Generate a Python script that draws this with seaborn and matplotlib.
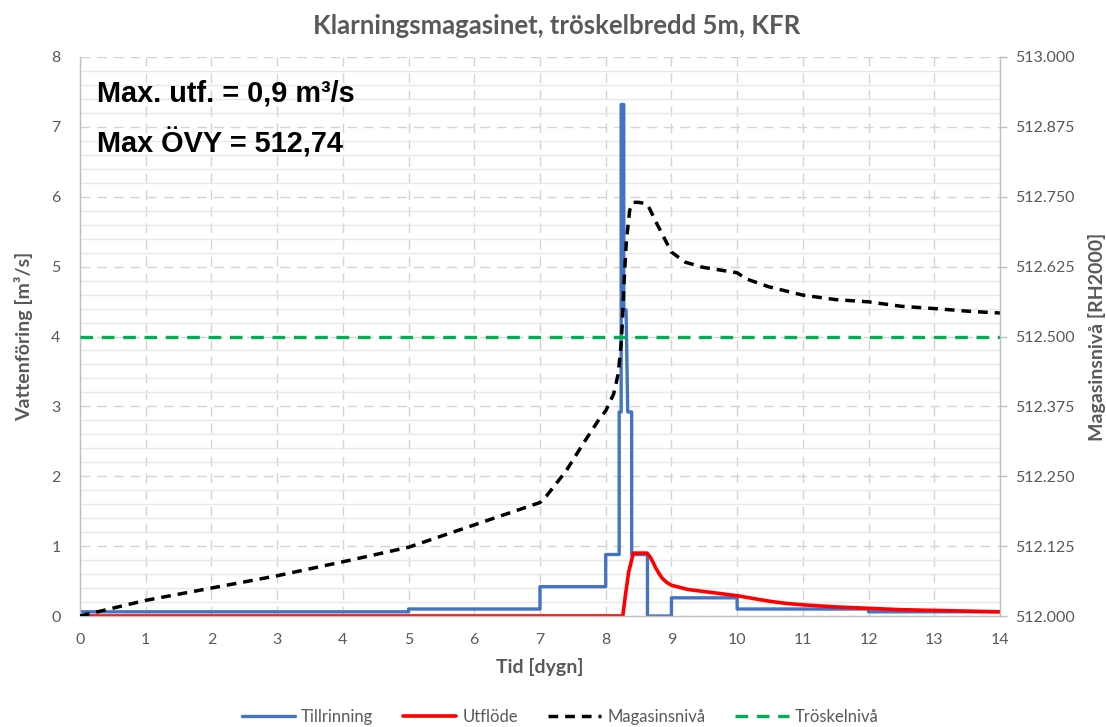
import matplotlib
matplotlib.use("Agg")
import matplotlib.pyplot as plt
from matplotlib.ticker import MultipleLocator, FormatStrFormatter
import pandas as pd
import seaborn as sns

# Tillrinning (inflow) [m³/s] – stepwise hydrograph, repeated times give vertical steps
t_inflow = [0, 5, 5, 7, 7, 8, 8, 8.205, 8.205, 8.235, 8.235, 8.275, 8.275, 8.31,
            8.335, 8.395, 8.395, 8.635, 8.635, 9, 9, 10, 10, 12, 12, 14]
q_inflow = [0.06, 0.06, 0.10, 0.10, 0.42, 0.42, 0.88, 0.88, 2.92, 2.92, 7.32, 7.32,
            4.38, 4.38, 2.92, 2.92, 0.88, 0.88, 0.0, 0.0, 0.26, 0.26, 0.10, 0.10,
            0.06, 0.06]

# Utflöde (outflow) [m³/s]
t_outflow = [0, 8.26, 8.3, 8.35, 8.42, 8.63, 8.68, 8.72, 8.76, 8.81, 8.86, 8.93, 9.0,
             9.25, 9.5, 9.75, 10.0, 10.25, 10.5, 10.75, 11.0, 11.5, 12.0, 12.5, 13.0,
             13.5, 14.0]
q_outflow = [0.0, 0.0, 0.30, 0.63, 0.90, 0.90, 0.84, 0.77, 0.69, 0.61, 0.54, 0.48,
             0.44, 0.38, 0.35, 0.32, 0.29, 0.25, 0.21, 0.18, 0.16, 0.13, 0.11, 0.09,
             0.08, 0.07, 0.06]

# Magasinsnivå (water level) [m, RH2000]
t_level = [0, 0.5, 1, 2, 3, 4, 5, 6, 7, 7.1, 7.4, 7.65, 7.9, 8.0, 8.12, 8.19, 8.23,
           8.25, 8.28, 8.315, 8.365, 8.42, 8.5, 8.6, 8.65, 8.76, 9.0, 9.21, 9.47,
           10.0, 10.14, 10.48, 11.0, 11.5, 12.0, 12.5, 13.0, 13.54, 14.0]
h_level = [512.000, 512.014, 512.028, 512.050, 512.072, 512.097, 512.123, 512.163,
           512.203, 512.215, 512.260, 512.307, 512.352, 512.367, 512.397, 512.433,
           512.481, 512.517, 512.600, 512.672, 512.726, 512.740, 512.740, 512.738,
           512.733, 512.706, 512.651, 512.633, 512.624, 512.614, 512.603, 512.589,
           512.574, 512.566, 512.562, 512.554, 512.550, 512.545, 512.542]

# Tröskelnivå (weir crest level) [m, RH2000]
t_threshold = [0, 14]
h_threshold = [512.5, 512.5]

x_ticks = list(range(0, 15))
y_left_ticks = list(range(0, 9))
y_right_min, y_right_max, y_right_step = 512.0, 513.0, 0.125

sns.set_style("white")
plt.rcParams["font.family"] = ["Lato", "DejaVu Sans"]

TXT = "#595959"
AXIS = "#bfbfbf"
BLUE = "#4472c4"
RED = "#ff0000"
GREEN = "#00b050"

W, H = 1106, 727
fig = plt.figure(figsize=(W / 100, H / 100), dpi=100)
ax = fig.add_axes([80 / W, 1 - 616 / H, 920 / W, 559 / H])
ax2 = ax.twinx()

inflow = pd.DataFrame({"t": t_inflow, "q": q_inflow})
outflow = pd.DataFrame({"t": t_outflow, "q": q_outflow})
level = pd.DataFrame({"t": t_level, "h": h_level})
threshold = pd.DataFrame({"t": t_threshold, "h": h_threshold})

sns.lineplot(data=inflow, x="t", y="q", ax=ax, estimator=None, sort=False,
             color=BLUE, lw=2.4, label="Tillrinning")
sns.lineplot(data=outflow, x="t", y="q", ax=ax, estimator=None, sort=False,
             color=RED, lw=2.6, label="Utflöde")
sns.lineplot(data=level, x="t", y="h", ax=ax2, estimator=None, sort=False,
             color="black", lw=2.5, dashes=False, label="Magasinsnivå")
sns.lineplot(data=threshold, x="t", y="h", ax=ax2, estimator=None, sort=False,
             color=GREEN, lw=2.4, label="Tröskelnivå")
ax2.lines[0].set_dashes((2.8, 2.0))
ax2.lines[1].set_dashes((3.8, 2.6))

for a in (ax, ax2):
    leg = a.get_legend()
    if leg is not None:
        leg.remove()

# axes ranges and ticks
ax.set_xlim(x_ticks[0], x_ticks[-1])
ax.set_ylim(y_left_ticks[0], y_left_ticks[-1])
ax.set_xticks(x_ticks)
ax.set_yticks(y_left_ticks)
ax.yaxis.set_minor_locator(MultipleLocator(0.2))
ax2.set_ylim(y_right_min, y_right_max)
ax2.yaxis.set_major_locator(MultipleLocator(y_right_step))
ax2.yaxis.set_major_formatter(FormatStrFormatter("%.3f"))

# grid
ax.set_axisbelow(True)
ax.grid(which="major", axis="both", color="#d4d4d4", lw=1.0, ls=(0, (7, 5)))
ax.grid(which="minor", axis="y", color="#e8e8e8", lw=1.0, ls="-")
ax.grid(which="minor", axis="x", visible=False)

# spines
for s in ("top", "right"):
    ax.spines[s].set_visible(False)
for s in ("left", "bottom"):
    ax.spines[s].set_color(AXIS)
    ax.spines[s].set_linewidth(1.0)
for s in ("top", "left", "bottom"):
    ax2.spines[s].set_visible(False)
ax2.spines["right"].set_color(AXIS)
ax2.spines["right"].set_linewidth(1.0)

ax.tick_params(axis="x", which="both", length=0, labelsize=11.5, labelcolor=TXT, pad=12)
ax.tick_params(axis="y", which="both", length=0, labelsize=11.5, labelcolor=TXT, pad=14)
ax2.tick_params(axis="y", which="major", length=5, width=1, color=AXIS,
                labelsize=11.5, labelcolor=TXT, pad=6)
ax2.tick_params(axis="y", which="minor", length=0)

label_kw = dict(fontsize=14, fontweight="bold", color=TXT)
ax.set_xlabel("Tid [dygn]", labelpad=8, **label_kw)
ax.set_ylabel("Vattenföring [m³/s]", labelpad=13, **label_kw)
ax2.set_ylabel("Magasinsnivå [RH2000]", labelpad=9, rotation=90, **label_kw)

fig.suptitle("Klarningsmagasinet, tröskelbredd 5m, KFR", x=557 / W, y=1 - 26 / H,
             va="center", fontsize=18.5, fontweight="bold", color=TXT)

# annotations with peak values (decimal comma)
q_max = max(q_outflow)
h_max = max(h_level)
q_txt = f"{q_max:.1f}".replace(".", ",")
h_txt = f"{h_max:.2f}".replace(".", ",")
ann_kw = dict(fontsize=20.8, fontweight="bold", color="black",
              family=["Liberation Sans", "DejaVu Sans"], va="center", ha="left")
fig.text(97 / W, 1 - 93 / H, f"Max. utf. = {q_txt} m³/s", **ann_kw)
fig.text(97 / W, 1 - 143 / H, f"Max ÖVY = {h_txt}", **ann_kw)

# legend below the plot
h1, l1 = ax.get_legend_handles_labels()
h2, l2 = ax2.get_legend_handles_labels()
fig.legend(h1 + h2, l1 + l2, loc="center", bbox_to_anchor=(560 / W, 1 - 717 / H),
           ncol=4, frameon=False, fontsize=12, labelcolor=TXT, handlelength=3.2,
           handletextpad=0.35, columnspacing=1.8)

fig.savefig("out.png", dpi=100)
